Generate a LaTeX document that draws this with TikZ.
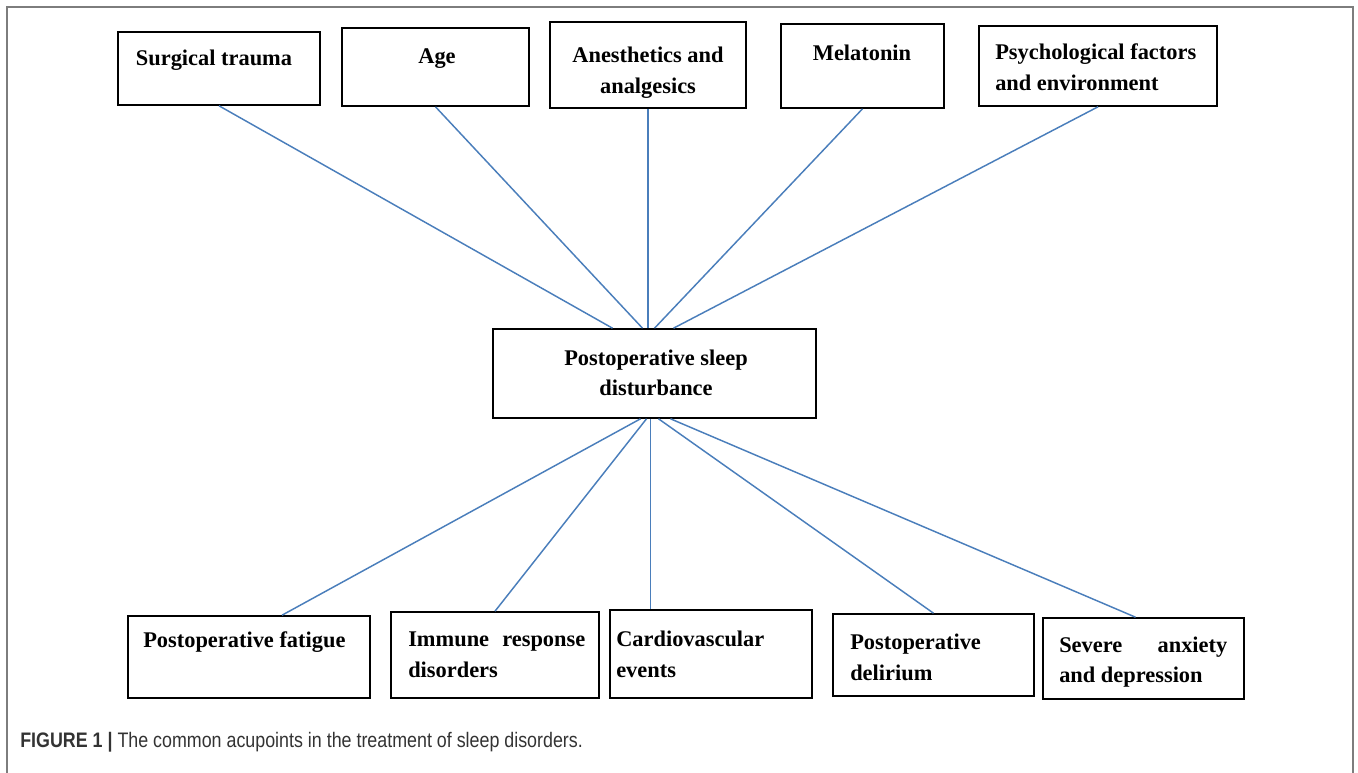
\documentclass[tikz,border=0pt]{standalone}
\usepackage{fontspec}
\setmainfont{Liberation Serif}
\newfontfamily\capfont[FakeStretch=0.85]{Liberation Sans}
\usetikzlibrary{calc}
\definecolor{linkblue}{RGB}{74,126,187}
\definecolor{framegray}{RGB}{125,125,125}
\begin{document}
\begin{tikzpicture}[x=0.75pt,y=-0.75pt,
  box/.style={draw,line width=1.2pt,inner sep=0pt},
  txt/.style={inner sep=0pt,font=\fontsize{16.8}{23}\selectfont\bfseries},
  link/.style={draw=linkblue,line width=1.1pt}]
  \useasboundingbox (0,0) rectangle (1358,773);
  \draw[framegray,line width=1.2pt] (7,773) -- (7,7) -- (1353,7) -- (1353,773);

  \node[box,minimum width=151.5pt,minimum height=54.75pt] (st) at (219,68.5) {};
  \node[box,minimum width=140.25pt,minimum height=58.5pt] (age) at (435.5,67) {};
  \node[box,minimum width=147pt,minimum height=64.5pt] (an) at (648,65) {};
  \node[box,minimum width=122.25pt,minimum height=63pt] (mel) at (862.5,66) {};
  \node[box,minimum width=178.5pt,minimum height=60pt] (psy) at (1098,66) {};
  \node[box,minimum width=242.25pt,minimum height=66.75pt] (psd) at (654.5,373.5) {};
  \node[box,minimum width=181.5pt,minimum height=61.5pt] (fat) at (249,657) {};
  \node[box,minimum width=156pt,minimum height=64.5pt] (imm) at (495,655) {};
  \node[box,minimum width=151.5pt,minimum height=66pt] (car) at (711,654) {};
  \node[box,minimum width=150.75pt,minimum height=61.5pt] (del) at (933.5,655) {};
  \node[box,minimum width=150.75pt,minimum height=60.75pt] (sev) at (1143.5,658.5) {};

  \node[txt] (st-t) at (214,60) {Surgical trauma};
  \node[txt] (age-t) at (437,59) {Age};
  \node[txt,align=center] (an-t) at (648,73) {Anesthetics and\\analgesics};
  \node[txt] (mel-t) at (862,53) {Melatonin};
  \node[txt,align=left,anchor=west] (psy-t) at (995,67) {Psychological factors\\and environment};
  \node[txt,align=center] (psd-t) at (656,373) {Postoperative sleep\\disturbance};
  \node[txt,anchor=west] (fat-t) at (143,642) {Postoperative fatigue};
  \node[txt,align=left,anchor=west] (imm-t) at (408,655) {\hbox to 132.75pt{Immune\hfill response}\\disorders};
  \node[txt,align=left,anchor=west] (car-t) at (616,654) {Cardiovascular\\events};
  \node[txt,align=left,anchor=west] (del-t) at (850,657.5) {Postoperative\\delirium};
  \node[txt,align=left,anchor=west] (sev-t) at (1059,662) {\hbox to 126pt{Severe\hfill anxiety}\\and depression};

  \draw[link] (st.south) -- ($(psd.north)+(-42,0)$);
  \draw[link] (age.south) -- ($(psd.north)+(-12,0)$);
  \draw[link] (an.south) -- (an.south |- psd.north);
  \draw[link] (mel.south) -- (psd.north);
  \draw[link] (psy.south) -- ($(psd.north)+(19,0)$);
  \coordinate (hub) at ($(psd.south)+(-4,0)$);
  \draw[link] ($(psd.south)+(-14,0)$) -- ($(fat.north)+(33,0)$);
  \draw[link] ($(psd.south)+(-8,0)$) -- (imm.north);
  \draw[link] (hub) -- (hub |- car.north);
  \draw[link] ($(psd.south)+(4,0)$) -- (del.north);
  \draw[link] ($(psd.south)+(16,0)$) -- ($(sev.north)+(-8,0)$);

  \node[anchor=west,inner sep=0pt,text=black!80,font={\fontsize{15.75}{18}\capfont}] (cap) at (20,742)
    {\textbf{FIGURE 1 |} The common acupoints in the treatment of sleep disorders.};
\end{tikzpicture}
\end{document}
